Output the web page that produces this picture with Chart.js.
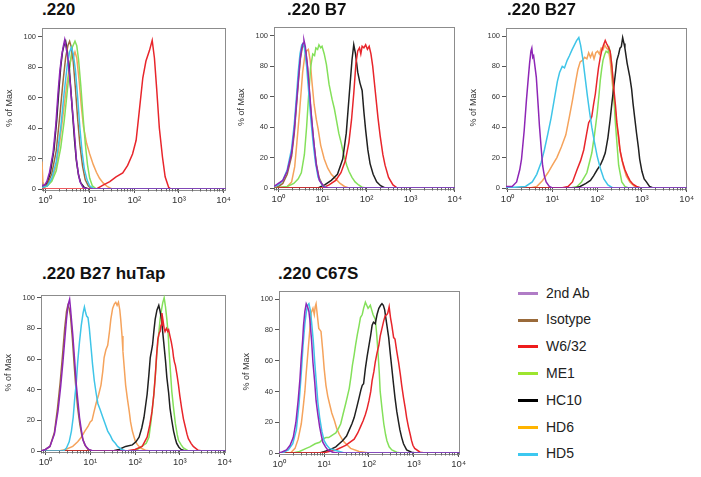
<!DOCTYPE html>
<html>
<head>
<meta charset="utf-8">
<script src="https://cdn.jsdelivr.net/npm/chart.js@4"></script>
<style>
  body { margin: 0; background: #fff; }
  #wrap { position: relative; width: 701px; height: 477px; overflow: hidden; font-family: "Liberation Sans", Arial, sans-serif; }
  #wrap canvas { position: absolute; }
  .ptitle { position: absolute; font-weight: bold; font-size: 17px; line-height: 17px; color: #111; white-space: nowrap; }
  .lrow { position: absolute; font-size: 14px; line-height: 14px; color: #222; white-space: nowrap; }
  .lsw { position: absolute; width: 20px; height: 3px; }
</style>
</head>
<body>
<div id="wrap"></div>
<script>
// series (legend order)
const seriesNames = ['2nd Ab', 'Isotype', 'W6/32', 'ME1', 'HC10', 'HD6', 'HD5'];
const lineColors = ['#8e26b6', '#9b6b3d', '#e8252b', '#84e05a', '#202020', '#f5a35c', '#3fc5e8'];
const legendColors = ['#b07cc6', '#9a6a3a', '#ee1c1c', '#9de52e', '#000000', '#ffb400', '#3cc8f0'];
// first = drawn on top
const drawOrder = ['2nd Ab', 'HD5', 'Isotype', 'W6/32', 'HC10', 'ME1', 'HD6'];

const panelTitles = ['.220', '.220 B7', '.220 B27', '.220 B27 huTap', '.220 C67S'];
const xTickExponents = [0, 1, 2, 3, 4];
const yTicks = [0, 20, 40, 60, 80, 100];

// curves: [log10 intensity, % of max]
// .220
const p220_secondAb = [[-0.07,2],[0,3],[0.04,5],[0.1,11],[0.18,24],[0.24,42],[0.29,63],[0.33,77],[0.37,87],[0.41,94],[0.44,98],[0.47,93],[0.51,86],[0.55,74],[0.59,60],[0.63,46],[0.67,32],[0.7,20],[0.74,11],[0.78,5],[0.85,1],[0.95,0],[4.1,0]];
const p220_hc10 = [[-0.07,1],[0,2],[0.06,5],[0.12,11],[0.2,26],[0.26,45],[0.31,65],[0.35,80],[0.39,90],[0.43,95],[0.46,97],[0.5,90],[0.54,80],[0.58,64],[0.62,48],[0.66,32],[0.7,19],[0.75,9],[0.8,4],[0.88,1],[0.98,0],[4.1,0]];
const p220_isotype = [[-0.07,1],[0.05,3],[0.15,10],[0.25,25],[0.33,48],[0.4,70],[0.46,86],[0.51,94],[0.55,97],[0.59,93],[0.63,84],[0.68,66],[0.73,46],[0.78,29],[0.84,15],[0.9,6],[0.97,2],[1.05,0],[4.1,0]];
const p220_hd5 = [[-0.07,1],[0.05,2],[0.15,7],[0.25,18],[0.35,40],[0.43,64],[0.5,82],[0.55,90],[0.59,93],[0.63,89],[0.68,78],[0.73,60],[0.78,40],[0.83,24],[0.88,13],[0.94,6],[1,2],[1.1,0],[4.1,0]];
const p220_me1 = [[-0.07,1],[0.05,2],[0.15,5],[0.25,12],[0.35,27],[0.43,45],[0.5,65],[0.56,82],[0.61,93],[0.67,97],[0.71,94],[0.75,85],[0.8,68],[0.85,48],[0.9,30],[0.95,16],[1,7],[1.06,2],[1.15,0],[4.1,0]];
const p220_hd6 = [[-0.07,18],[-0.05,5],[-0.02,1],[0.05,2],[0.15,6],[0.25,15],[0.33,31],[0.4,48],[0.48,67],[0.55,81],[0.6,88],[0.63,86],[0.67,90],[0.71,86],[0.76,72],[0.81,55],[0.86,41],[0.93,30],[1,23],[1.08,16],[1.15,11],[1.22,7],[1.3,4],[1.4,1.5],[1.5,0],[4.1,0]];
const p220_w632 = [[-0.07,0],[1.15,0],[1.3,2.6],[1.45,4.8],[1.59,8],[1.74,10.6],[1.85,15.5],[1.96,23],[2.04,32],[2.11,51],[2.19,73],[2.26,84],[2.34,91],[2.4,97.6],[2.45,86],[2.5,66],[2.56,40],[2.63,21],[2.69,8],[2.77,1],[2.82,0],[4.1,0]];

// .220 B7
const pB7_secondAb = [[-0.1,1],[0,3],[0.1,5],[0.2,11],[0.3,23],[0.36,38],[0.41,56],[0.45,70],[0.49,84],[0.53,92],[0.56,95],[0.58,97],[0.61,93],[0.66,80],[0.71,62],[0.75,47],[0.79,34],[0.83,23],[0.86,15],[0.93,5],[1.04,0.5],[1.15,0],[4.1,0]];
const pB7_hd5 = [[-0.1,1],[0,2],[0.1,5],[0.2,12],[0.3,26],[0.36,42],[0.41,60],[0.45,76],[0.49,88],[0.53,94],[0.56,95],[0.59,92],[0.64,80],[0.69,62],[0.74,44],[0.79,29],[0.84,17],[0.9,7],[1,1.5],[1.1,0],[4.1,0]];
const pB7_isotype = [[-0.1,0],[0,1],[0.1,3],[0.2,9],[0.3,21],[0.36,36],[0.41,54],[0.46,72],[0.5,85],[0.54,92],[0.58,94],[0.62,90],[0.66,79],[0.71,60],[0.76,43],[0.81,28],[0.86,16],[0.92,7],[1,2],[1.1,0],[4.1,0]];
const pB7_hd6 = [[-0.1,0],[0.2,1],[0.3,4],[0.37,14],[0.42,30],[0.48,50],[0.55,76],[0.6,87],[0.64,90],[0.68,91],[0.72,84],[0.76,70],[0.81,55],[0.86,45],[0.9,39],[0.96,28],[1.04,19],[1.12,13],[1.2,9],[1.3,6],[1.4,3],[1.5,1],[1.6,0],[4.1,0]];
const pB7_me1 = [[-0.1,0],[0.2,1],[0.35,3],[0.45,6],[0.52,10],[0.59,22],[0.64,40],[0.68,58],[0.73,79],[0.78,88],[0.82,87],[0.85,92],[0.89,91],[0.92,94],[0.96,92],[0.99,93],[1.04,88],[1.09,81],[1.15,68],[1.22,58],[1.27,52],[1.32,44],[1.37,36],[1.43,29],[1.48,22],[1.55,15],[1.6,11],[1.67,7],[1.74,4],[1.82,2],[1.9,0.5],[2,0],[4.1,0]];
const pB7_hc10 = [[-0.1,0],[0.9,0],[1.05,2],[1.2,5],[1.34,9],[1.46,19],[1.54,36],[1.61,62],[1.67,84],[1.71,94],[1.75,88],[1.8,76],[1.85,69],[1.9,64],[1.94,50],[1.98,38],[2.03,25],[2.08,16],[2.15,9],[2.23,4],[2.32,1.5],[2.42,0],[4.1,0]];
const pB7_w632 = [[-0.1,0],[1,0],[1.15,2],[1.3,5],[1.42,10],[1.52,18],[1.6,30],[1.66,45],[1.71,62],[1.76,82],[1.8,90],[1.84,92],[1.87,88],[1.9,93],[1.94,92],[1.98,94],[2.02,91],[2.06,93],[2.1,88],[2.14,80],[2.2,63],[2.26,46],[2.31,34],[2.37,22],[2.42,15],[2.5,7],[2.6,2],[2.7,0],[4.1,0]];

// .220 B27
const pB27_secondAb = [[-0.1,1],[0.1,1],[0.2,4],[0.27,12],[0.31,19],[0.37,38],[0.42,58],[0.46,72],[0.49,82],[0.52,90],[0.54,92],[0.56,86],[0.58,87],[0.61,80],[0.64,73],[0.68,55],[0.71,41],[0.75,26],[0.78,15],[0.82,8],[0.86,4],[0.93,1],[1,0],[4.1,0]];
const pB27_hd5 = [[-0.1,0],[0.4,1],[0.55,4],[0.65,9],[0.75,17],[0.82,25],[0.9,36],[0.97,46],[1.04,58],[1.11,70],[1.16,76],[1.22,80],[1.27,79],[1.33,84],[1.38,87],[1.44,91],[1.49,94],[1.54,97],[1.59,99],[1.63,94],[1.68,85],[1.73,73],[1.78,61],[1.83,50],[1.88,40],[1.94,30],[2,21],[2.07,13],[2.15,6],[2.24,2],[2.35,0],[4.1,0]];
const pB27_hd6 = [[-0.1,0],[0.5,0],[0.65,1],[0.78,5],[0.9,10],[1,15],[1.1,20],[1.2,27],[1.3,35],[1.38,47],[1.45,58],[1.52,70],[1.57,78],[1.62,83],[1.67,84],[1.72,86],[1.77,85],[1.81,89],[1.85,86],[1.89,89],[1.93,85],[1.97,89],[2.01,90],[2.05,88],[2.09,92],[2.13,91],[2.17,94],[2.21,92],[2.25,91],[2.29,84],[2.33,72],[2.37,60],[2.42,47],[2.47,34],[2.52,23],[2.58,15],[2.65,8],[2.73,4],[2.84,1],[2.95,0],[4.1,0]];
const pB27_w632 = [[-0.1,0],[1.2,0],[1.35,1],[1.45,4],[1.55,12],[1.63,18],[1.7,25],[1.76,35],[1.81,43],[1.85,45],[1.88,47],[1.92,55],[1.96,62],[2,72],[2.03,79],[2.07,86],[2.1,90],[2.14,94],[2.18,97],[2.21,95],[2.23,94],[2.26,92],[2.29,90],[2.33,80],[2.37,66],[2.41,54],[2.44,43],[2.48,34],[2.51,25],[2.56,18],[2.62,12],[2.68,8],[2.73,5],[2.8,2.5],[2.88,1],[2.98,0],[4.1,0]];
const pB27_me1 = [[-0.1,0],[1.4,0],[1.55,1],[1.65,4],[1.77,10],[1.88,23],[1.94,35],[2,49],[2.04,61],[2.07,71],[2.1,78],[2.13,84],[2.17,88],[2.2,90],[2.24,89],[2.27,92],[2.3,88],[2.33,80],[2.37,62],[2.4,46],[2.43,34],[2.48,15],[2.55,4],[2.62,1],[2.7,0],[4.1,0]];
const pB27_hc10 = [[-0.1,0],[1.5,0],[1.62,1],[1.75,3],[1.85,5],[1.92,8],[2,12],[2.07,15],[2.13,19],[2.18,23],[2.24,33],[2.29,45],[2.33,56],[2.37,66],[2.41,76],[2.44,84],[2.48,88],[2.51,92],[2.54,93],[2.57,99],[2.6,95],[2.62,92],[2.67,82],[2.73,73],[2.77,65],[2.8,56],[2.84,46],[2.88,36],[2.92,27],[2.95,19],[3,11],[3.05,6],[3.1,4],[3.17,1],[3.25,0],[4.1,0]];

// .220 B27 huTap
const pHuTap_secondAb = [[-0.1,0],[0,1],[0.1,3],[0.2,11],[0.28,26],[0.34,42],[0.39,58],[0.43,72],[0.47,86],[0.5,94],[0.52,97],[0.54,99],[0.56,93],[0.58,86],[0.61,76],[0.65,60],[0.69,43],[0.73,31],[0.76,22],[0.8,14],[0.84,7],[0.9,3],[0.97,1],[1.06,0],[4.1,0]];
const pHuTap_isotype = [[-0.1,0],[0,1],[0.1,3],[0.2,12],[0.27,28],[0.33,45],[0.38,62],[0.43,80],[0.47,91],[0.5,95],[0.53,93],[0.56,88],[0.6,74],[0.64,57],[0.68,41],[0.72,28],[0.77,17],[0.82,9],[0.88,4],[0.95,1],[1.05,0],[4.1,0]];
const pHuTap_hd5 = [[-0.1,0],[0.4,0],[0.47,2],[0.53,6],[0.58,13],[0.62,22],[0.65,33],[0.69,45],[0.72,58],[0.76,71],[0.8,82],[0.84,90],[0.87,94],[0.9,90],[0.92,88],[0.95,87],[0.98,80],[1.02,67],[1.05,57],[1.09,46],[1.13,38],[1.17,31],[1.22,27],[1.28,22],[1.33,18],[1.39,13],[1.45,10],[1.5,7],[1.56,5],[1.61,3],[1.7,1],[1.8,0],[4.1,0]];
const pHuTap_hd6 = [[-0.1,0],[0.3,0],[0.45,1],[0.61,3],[0.72,6],[0.8,9],[0.88,13],[0.95,16],[1,19],[1.04,20],[1.08,25],[1.13,31],[1.19,37],[1.24,43],[1.28,52],[1.31,61],[1.35,66],[1.39,69],[1.43,78],[1.46,86],[1.5,93],[1.54,96],[1.57,97],[1.6,95],[1.63,97],[1.66,92],[1.68,86],[1.71,75],[1.73,65],[1.76,54],[1.79,43],[1.83,34],[1.87,26],[1.9,19],[1.94,13],[1.98,9],[2.01,6],[2.07,3.5],[2.12,2],[2.23,0.5],[2.35,0],[4.1,0]];
const pHuTap_hc10 = [[-0.1,0],[1.5,0],[1.64,1],[1.79,3],[1.94,4],[2.02,6],[2.09,9],[2.15,15],[2.2,22],[2.27,37],[2.31,50],[2.34,61],[2.39,69],[2.42,78],[2.45,86],[2.49,92],[2.53,95],[2.56,91],[2.59,86],[2.64,71],[2.68,59],[2.71,48],[2.75,38],[2.78,28],[2.82,20],[2.86,13],[2.9,8],[2.93,5],[2.98,2.5],[3.03,1],[3.12,0],[4.1,0]];
const pHuTap_me1 = [[-0.1,0],[1.9,0],[2.05,1],[2.15,3],[2.25,5],[2.31,9],[2.36,20],[2.42,37],[2.46,52],[2.49,65],[2.53,77],[2.56,86],[2.59,92],[2.62,97],[2.65,100],[2.68,94],[2.71,86],[2.74,76],[2.76,65],[2.79,52],[2.82,39],[2.86,28],[2.9,18],[2.94,11],[2.97,7],[3.03,4],[3.08,2],[3.19,0],[4.1,0]];
const pHuTap_w632 = [[-0.1,0],[1.8,0],[2,1],[2.16,3],[2.27,9],[2.33,17],[2.38,26],[2.42,37],[2.45,48],[2.48,62],[2.51,73],[2.54,77],[2.56,78],[2.58,82],[2.6,90],[2.62,86],[2.65,80],[2.67,78],[2.7,80],[2.73,78],[2.75,79],[2.78,75],[2.81,71],[2.84,66],[2.86,61],[2.88,58],[2.9,56],[2.94,49],[2.97,43],[3,36],[3.04,28],[3.08,21],[3.12,16],[3.16,11],[3.19,8],[3.25,5],[3.3,3],[3.41,0.5],[3.5,0],[4.1,0]];

// .220 C67S
const pC67S_secondAb = [[-0.1,0],[0.05,0.5],[0.16,2],[0.24,5],[0.31,10],[0.37,20],[0.42,34],[0.46,48],[0.49,62],[0.52,73],[0.54,83],[0.57,92],[0.6,97],[0.63,95],[0.66,92],[0.68,87],[0.72,73],[0.75,59],[0.79,46],[0.82,34],[0.86,25],[0.9,17],[0.94,11],[0.97,7],[1.03,4],[1.08,2],[1.19,0.5],[1.3,0],[4.1,0]];
const pC67S_hd5 = [[-0.1,0],[0.1,0.5],[0.2,2],[0.3,6],[0.38,15],[0.44,32],[0.49,52],[0.53,70],[0.57,84],[0.6,91],[0.63,96],[0.66,97],[0.69,93],[0.72,85],[0.76,72],[0.79,59],[0.83,44],[0.86,33],[0.9,23],[0.95,14],[1,8],[1.06,5],[1.12,3],[1.22,2],[1.34,1],[1.45,0],[4.1,0]];
const pC67S_hd6 = [[-0.1,0],[0.25,0],[0.35,3],[0.42,9],[0.49,19],[0.53,29],[0.57,40],[0.6,52],[0.64,66],[0.68,80],[0.71,91],[0.75,94],[0.78,90],[0.8,95],[0.82,97],[0.85,89],[0.88,81],[0.93,79],[0.97,66],[1,55],[1.04,44],[1.08,37],[1.12,32],[1.17,26],[1.23,21],[1.28,16],[1.34,12],[1.4,9],[1.45,7],[1.52,5],[1.59,3],[1.78,1],[2,0],[4.1,0]];
const pC67S_me1 = [[-0.1,0],[0.3,0],[0.45,1],[0.6,3],[0.68,4],[0.8,6],[0.9,7],[0.97,9],[1.04,10],[1.1,10],[1.15,11],[1.2,12],[1.26,13],[1.32,16],[1.37,19],[1.42,25],[1.48,32],[1.52,37],[1.56,42],[1.6,50],[1.63,57],[1.67,64],[1.7,70],[1.74,77],[1.78,83],[1.81,88],[1.85,90],[1.88,94],[1.92,98],[1.95,96],[1.98,94],[2.03,96],[2.06,93],[2.09,90],[2.14,87],[2.17,78],[2.2,66],[2.23,52],[2.25,40],[2.29,29],[2.33,19],[2.37,12],[2.4,8],[2.45,4],[2.51,2],[2.62,0.5],[2.7,0],[4.1,0]];
const pC67S_hc10 = [[-0.1,0],[0.9,0],[1.12,2],[1.26,4],[1.41,8],[1.5,11],[1.56,15],[1.62,19],[1.67,23],[1.73,30],[1.78,36],[1.82,41],[1.85,44],[1.88,45],[1.92,55],[1.96,63],[2,70],[2.04,77],[2.07,83],[2.1,85],[2.14,84],[2.18,90],[2.22,94],[2.26,96],[2.29,97],[2.32,96],[2.35,93],[2.4,83],[2.44,75],[2.47,66],[2.51,55],[2.55,44],[2.58,36],[2.62,27],[2.66,20],[2.69,15],[2.73,10],[2.77,6],[2.84,2],[2.95,0.5],[3.05,0],[4.1,0]];
const pC67S_w632 = [[-0.1,0],[0.9,0],[1.04,0.5],[1.26,2],[1.48,5],[1.67,9],[1.75,13],[1.81,17],[1.87,21],[1.92,25],[1.96,29],[2,34],[2.04,40],[2.07,47],[2.11,53],[2.14,59],[2.18,65],[2.22,70],[2.25,76],[2.29,81],[2.33,86],[2.36,89],[2.4,90],[2.42,91],[2.45,95],[2.48,88],[2.51,83],[2.55,75],[2.58,74],[2.62,66],[2.66,59],[2.7,51],[2.73,44],[2.77,36],[2.81,29],[2.84,23],[2.88,17],[2.92,12],[2.95,8],[2.98,5],[3.02,3],[3.14,0.5],[3.25,0],[4.1,0]];

// panel layout: plot box [left, top, right, bottom], visible log range, y max
const panels = [
  { title: panelTitles[0], titlePos: [42, 1], box: [42, 25, 227, 189], xLog: [-0.069, 4.051], yMax: 106,
    curves: { '2nd Ab': p220_secondAb, 'Isotype': p220_isotype, 'W6/32': p220_w632, 'ME1': p220_me1, 'HC10': p220_hc10, 'HD6': p220_hd6, 'HD5': p220_hd5 } },
  { title: panelTitles[1], titlePos: [287, 1], box: [274, 24, 458, 188], xLog: [-0.1, 4.007], yMax: 106,
    curves: { '2nd Ab': pB7_secondAb, 'Isotype': pB7_isotype, 'W6/32': pB7_w632, 'ME1': pB7_me1, 'HC10': pB7_hc10, 'HD6': pB7_hd6, 'HD5': pB7_hd5 } },
  { title: panelTitles[2], titlePos: [507, 1], box: [506, 25, 690, 188], xLog: [-0.037, 4.006], yMax: 105.6,
    curves: { '2nd Ab': pB27_secondAb, 'W6/32': pB27_w632, 'ME1': pB27_me1, 'HC10': pB27_hc10, 'HD6': pB27_hd6, 'HD5': pB27_hd5 } },
  { title: panelTitles[3], titlePos: [42, 265], box: [41, 292, 228, 451], xLog: [-0.099, 4.029], yMax: 102.1,
    curves: { '2nd Ab': pHuTap_secondAb, 'Isotype': pHuTap_isotype, 'W6/32': pHuTap_w632, 'ME1': pHuTap_me1, 'HC10': pHuTap_hc10, 'HD6': pHuTap_hd6, 'HD5': pHuTap_hd5 } },
  { title: panelTitles[4], titlePos: [278, 265], box: [279, 288, 462, 453], xLog: [-0.007, 4.024], yMax: 105.6,
    curves: { '2nd Ab': pC67S_secondAb, 'W6/32': pC67S_w632, 'ME1': pC67S_me1, 'HC10': pC67S_hc10, 'HD6': pC67S_hd6, 'HD5': pC67S_hd5 } }
];

const FONT = '"Liberation Sans", Arial, sans-serif';
const SUP = ['⁰', '¹', '²', '³', '⁴'];
const Y_AXIS_W = 42, X_AXIS_H = 22, PAD_T = 4, PAD_R = 6;

// grey box round the plot + small minor ticks on the log axis
const framePlugin = {
  id: 'frame',
  beforeDatasetsDraw(chart) {
    const { ctx, chartArea: a } = chart;
    const xs = chart.scales.x;
    ctx.save();
    ctx.strokeStyle = '#8c8c8c';
    ctx.lineWidth = 1;
    ctx.strokeRect(Math.round(a.left) + 0.5, Math.round(a.top) + 0.5, Math.round(a.width) - 1, Math.round(a.height));
    ctx.strokeStyle = '#666';
    ctx.beginPath();
    for (let e = -1; e < 4; e++) {
      for (let m = 2; m <= 9; m++) {
        const px = xs.getPixelForValue(m * Math.pow(10, e));
        if (px < a.left || px > a.right) continue;
        ctx.moveTo(Math.round(px) + 0.5, a.bottom);
        ctx.lineTo(Math.round(px) + 0.5, a.bottom + 2.5);
      }
    }
    ctx.stroke();
    ctx.restore();
  }
};

const toPoints = arr => arr.map(([d, v]) => ({ x: Math.pow(10, d), y: v }));

const wrap = document.getElementById('wrap');

panels.forEach(p => {
  const [l, t, r, b] = p.box;
  const cv = document.createElement('canvas');
  cv.width = (r - l) + Y_AXIS_W + PAD_R;
  cv.height = (b - t) + PAD_T + X_AXIS_H;
  cv.style.left = (l - Y_AXIS_W) + 'px';
  cv.style.top = (t - PAD_T) + 'px';
  wrap.appendChild(cv);

  const ttl = document.createElement('div');
  ttl.className = 'ptitle';
  ttl.textContent = p.title;
  ttl.style.left = p.titlePos[0] + 'px';
  ttl.style.top = p.titlePos[1] + 'px';
  wrap.appendChild(ttl);

  const datasets = drawOrder.filter(n => p.curves[n]).map(n => ({
    label: n,
    data: toPoints(p.curves[n]),
    borderColor: lineColors[seriesNames.indexOf(n)],
    borderWidth: 1.5,
    pointRadius: 0,
    tension: 0,
    fill: false
  }));

  new Chart(cv, {
    type: 'line',
    data: { datasets },
    options: {
      responsive: false,
      animation: false,
      devicePixelRatio: 1,
      layout: { padding: { top: PAD_T, right: PAD_R, left: 0, bottom: 0 } },
      plugins: { legend: { display: false }, tooltip: { enabled: false } },
      scales: {
        x: {
          type: 'logarithmic',
          min: Math.pow(10, p.xLog[0]),
          max: Math.pow(10, p.xLog[1]),
          afterBuildTicks: s => { s.ticks = xTickExponents.map(e => ({ value: Math.pow(10, e) })); },
          afterFit: s => { s.height = X_AXIS_H; },
          border: { display: false },
          grid: { drawOnChartArea: false, drawTicks: true, tickLength: 4, color: '#555' },
          ticks: {
            autoSkip: false, maxRotation: 0, minRotation: 0, padding: 2, color: '#333',
            font: { family: FONT, size: 9.5 },
            callback: v => '10' + SUP[Math.round(Math.log10(v))]
          }
        },
        y: {
          min: 0,
          max: p.yMax,
          afterBuildTicks: s => { s.ticks = yTicks.map(v => ({ value: v })); },
          afterFit: s => { s.width = Y_AXIS_W; },
          border: { display: false },
          grid: { drawOnChartArea: false, drawTicks: true, tickLength: 4, color: '#555' },
          ticks: { padding: 2, color: '#333', font: { family: FONT, size: 7.5 } },
          title: { display: true, text: '% of Max', color: '#333', font: { family: FONT, size: 9 }, padding: { top: 4, bottom: 0 } }
        }
      }
    },
    plugins: [framePlugin]
  });
});

// legend
seriesNames.forEach((name, i) => {
  const cy = 293.3 + i * 26.8;
  const sw = document.createElement('div');
  sw.className = 'lsw';
  sw.style.left = '518px';
  sw.style.top = (cy - 1.5) + 'px';
  sw.style.background = legendColors[i];
  wrap.appendChild(sw);
  const tx = document.createElement('div');
  tx.className = 'lrow';
  tx.textContent = name;
  tx.style.left = '546px';
  tx.style.top = (cy - 7.8) + 'px';
  wrap.appendChild(tx);
});
</script>
</body>
</html>
